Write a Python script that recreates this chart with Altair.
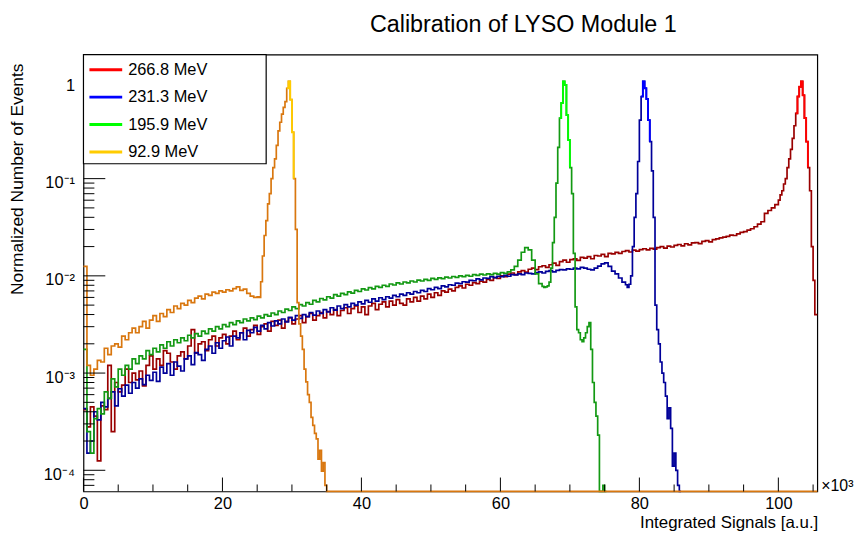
import numpy as np
import pandas as pd
import altair as alt

FONT = "Liberation Sans"
TITLE = "Calibration of LYSO Module 1"
X_TITLE = "Integrated Signals [a.u.]"
Y_TITLE = "Normalized Number of Events"
X_EXP = "×10³"

SERIES = ["266.8 MeV", "231.3 MeV", "195.9 MeV", "92.9 MeV"]
DARK = ["#990000", "#000099", "#139913", "#d9770f"]
BRIGHT = ["#ff0000", "#0000ff", "#00ff00", "#ffcc00"]

Y_MIN, Y_MAX = 6.06e-5, 1.89
X_MIN, X_MAX = 0.0, 105.6
FLOOR = Y_MIN  # empty bins sit on the axis

X_MAJOR = [0, 20, 40, 60, 80, 100]
X_MINOR = [5, 10, 15, 25, 30, 35, 45, 50, 55, 65, 70, 75, 85, 90, 95, 105]
Y_MAJOR = [1e-4, 1e-3, 1e-2, 1e-1, 1.0]
Y_MINOR = [k * 10.0 ** d for d in range(-5, 1) for k in range(2, 10)
           if Y_MIN <= k * 10.0 ** d <= Y_MAX]

# ---- 266.8 MeV : coarse bins (0.5 wide from 0), fine bins (0.25 wide from 100)
RED_COARSE = [
    4.2e-4, 2.8e-4, 4.5e-4, 3.6e-4, 1.25e-4, 4.6e-4, 4.2e-4, 1.2e-3, 2.5e-4, 8.0e-4,
    6.4e-4, 7.5e-4, 1.1e-3, 8.0e-4, 1.0e-3, 8.5e-4, 1.05e-3, 7.4e-4, 1.2e-3, 1.5e-3,
    1.1e-3, 1.4e-3, 1.2e-3, 1.7e-3, 1.6e-3, 1.3e-3, 1.1e-3, 1.5e-3, 1.65e-3, 1.4e-3,
    1.9e-3, 2.8e-3, 1.6e-3, 2.0e-3, 2.1e-3, 1.7e-3, 2.2e-3, 2.4e-3, 1.9e-3, 2.3e-3,
    2.5e-3, 2.0e-3, 2.4e-3, 2.7e-3, 2.2e-3, 2.6e-3, 2.9e-3, 2.4e-3, 2.8e-3, 3.1e-3,
    2.5e-3, 3.0e-3, 3.2e-3, 2.7e-3, 3.4e-3, 3.1e-3, 3.5e-3, 2.9e-3, 3.4e-3, 3.7e-3,
    3.2e-3, 3.6e-3, 3.9e-3, 3.3e-3, 3.8e-3, 4.1e-3, 3.5e-3, 3.9e-3, 4.2e-3, 3.7e-3,
    4.3e-3, 4.0e-3, 4.5e-3, 3.9e-3, 4.4e-3, 4.7e-3, 4.1e-3, 4.6e-3, 4.9e-3, 4.2e-3,
    4.8e-3, 4.0e-3, 4.9e-3, 5.2e-3, 4.5e-3, 5.1e-3, 5.4e-3, 4.8e-3, 5.5e-3, 5.0e-3,
    5.7e-3, 5.2e-3, 5.0e-3, 5.8e-3, 5.4e-3, 6.0e-3, 5.5e-3, 6.2e-3, 5.8e-3, 6.5e-3,
    6.0e-3, 6.7e-3, 6.3e-3, 7.0e-3, 6.8e-3, 7.3e-3, 7.0e-3, 7.6e-3, 7.9e-3, 7.5e-3,
    8.2e-3, 8.0e-3, 8.5e-3, 8.3e-3, 8.8e-3, 8.6e-3, 9.2e-3, 9.0e-3, 9.6e-3, 9.4e-3,
    1.0e-2, 9.8e-3, 1.04e-2, 1.07e-2, 1.03e-2, 1.1e-2, 1.13e-2, 1.09e-2, 1.17e-2, 1.2e-2,
    1.16e-2, 1.24e-2, 1.27e-2, 1.22e-2, 1.3e-2, 1.35e-2, 1.28e-2, 1.4e-2, 1.45e-2, 1.38e-2,
    1.47e-2, 1.5e-2, 1.44e-2, 1.55e-2, 1.52e-2, 1.58e-2, 1.5e-2, 1.62e-2, 1.6e-2, 1.66e-2,
    1.58e-2, 1.7e-2, 1.68e-2, 1.74e-2, 1.7e-2, 1.78e-2, 1.82e-2, 1.76e-2, 1.84e-2, 1.8e-2,
    1.86e-2, 1.9e-2, 1.85e-2, 1.92e-2, 1.88e-2, 1.95e-2, 2.0e-2, 1.93e-2, 2.02e-2, 1.98e-2,
    2.06e-2, 2.1e-2, 2.03e-2, 2.14e-2, 2.08e-2, 2.18e-2, 2.2e-2, 2.15e-2, 2.26e-2, 2.3e-2,
    2.24e-2, 2.36e-2, 2.4e-2, 2.46e-2, 2.5e-2, 2.55e-2, 2.62e-2, 2.6e-2, 2.7e-2, 2.8e-2,
    2.85e-2, 2.95e-2, 3.05e-2, 3.2e-2, 3.4e-2, 3.6e-2, 4.4e-2, 4.7e-2, 5.0e-2, 5.4e-2,
]
RED_FINE_START = 100.0
RED_FINE = [
    6.0e-2, 6.8e-2, 7.5e-2, 8.8e-2, 0.10, 0.13, 0.16, 0.20, 0.26, 0.35, 0.47,
    0.70, 0.88, 1.0, 0.72, 0.42, 0.24, 0.13, 7.5e-2, 2.0e-2, 9.0e-3, 4.0e-3,
]
RED_TAIL_X = [105.6]
RED_TAIL_Y = [4.0e-3]

# ---- 231.3 MeV
BLUE_COARSE = [
    4.3e-4, 1.5e-4, 2.0e-4, 4.0e-4, 3.3e-4, 5.0e-4, 4.5e-4, 5.5e-4, 6.4e-4, 4.6e-4,
    6.9e-4, 5.8e-4, 7.5e-4, 6.2e-4, 8.0e-4, 7.0e-4, 8.7e-4, 7.6e-4, 9.5e-4, 8.4e-4,
    1.02e-3, 8.2e-4, 1.15e-3, 1.0e-3, 1.25e-3, 9.5e-4, 1.3e-3, 1.18e-3, 1.05e-3, 1.4e-3,
    1.5e-3, 1.22e-3, 1.62e-3, 1.55e-3, 1.35e-3, 1.75e-3, 1.9e-3, 1.6e-3, 2.05e-3, 1.8e-3,
    2.15e-3, 2.35e-3, 1.9e-3, 2.4e-3, 2.3e-3, 2.6e-3, 2.2e-3, 2.75e-3, 2.6e-3, 2.95e-3,
    2.7e-3, 3.1e-3, 2.85e-3, 3.3e-3, 3.05e-3, 3.45e-3, 3.2e-3, 3.6e-3, 3.35e-3, 3.75e-3,
    3.5e-3, 3.9e-3, 3.65e-3, 4.0e-3, 3.8e-3, 4.2e-3, 3.95e-3, 4.35e-3, 4.1e-3, 4.5e-3,
    4.25e-3, 4.7e-3, 4.45e-3, 4.9e-3, 4.6e-3, 5.05e-3, 4.8e-3, 5.2e-3, 5.0e-3, 5.4e-3,
    5.15e-3, 5.6e-3, 5.35e-3, 5.8e-3, 5.5e-3, 5.95e-3, 5.7e-3, 6.1e-3, 5.9e-3, 6.3e-3,
    6.1e-3, 6.5e-3, 6.3e-3, 6.7e-3, 6.5e-3, 6.9e-3, 6.7e-3, 7.1e-3, 6.9e-3, 7.4e-3,
    7.2e-3, 7.6e-3, 7.4e-3, 7.9e-3, 7.7e-3, 8.1e-3, 8.0e-3, 8.4e-3, 8.3e-3, 8.7e-3,
    8.6e-3, 9.0e-3, 8.9e-3, 9.3e-3, 9.1e-3, 9.5e-3, 9.4e-3, 9.8e-3, 9.6e-3, 9.9e-3,
    9.8e-3, 1.01e-2, 9.9e-3, 1.03e-2, 1.02e-2, 1.05e-2, 1.03e-2, 1.07e-2, 1.06e-2, 1.05e-2,
    1.08e-2, 1.1e-2, 1.07e-2, 1.11e-2, 1.13e-2, 1.1e-2, 1.14e-2, 1.16e-2, 1.15e-2, 1.18e-2,
    1.17e-2, 1.2e-2, 1.18e-2, 1.22e-2, 1.2e-2, 1.17e-2, 1.15e-2, 1.2e-2, 1.26e-2, 1.33e-2,
    1.36e-2, 1.25e-2, 1.12e-2, 1.05e-2, 9.5e-3, 8.6e-3,
]
BLUE_FINE_START = 78.0
BLUE_FINE = [
    8.1e-3, 7.6e-3, 8.2e-3, 1.0e-2, 2.0e-2, 4.0e-2, 7.0e-2, 0.15, 0.40, 0.70, 1.0,
    0.85, 0.66, 0.40, 0.24, 0.12, 4.0e-2, 5.0e-3, 2.8e-3, 2.0e-3, 1.3e-3, 1.0e-3,
    8.0e-4, 5.8e-4, 3.4e-4, 4.4e-4, 2.7e-4, 1.1e-4, 1.5e-4, 1.0e-4, 7.0e-5, FLOOR,
]
BLUE_TAIL_X = [86.0]
BLUE_TAIL_Y = [FLOOR]

# ---- 195.9 MeV
GREEN_COARSE = [
    1.75e-3, 2.5e-4, 1.5e-4, 3.4e-4, 4.3e-4, 3.8e-4, 6.4e-4, 5.5e-4, 8.7e-4, 7.2e-4,
    1.1e-3, 9.5e-4, 1.2e-3, 1.1e-3, 1.4e-3, 1.25e-3, 1.5e-3, 1.4e-3, 1.7e-3, 1.55e-3,
    1.8e-3, 1.65e-3, 1.95e-3, 1.8e-3, 2.1e-3, 1.9e-3, 2.2e-3, 2.05e-3, 2.3e-3, 2.15e-3,
    2.45e-3, 2.3e-3, 2.55e-3, 2.4e-3, 2.7e-3, 2.55e-3, 2.85e-3, 2.7e-3, 3.0e-3, 2.85e-3,
    3.15e-3, 3.0e-3, 3.3e-3, 3.15e-3, 3.45e-3, 3.3e-3, 3.6e-3, 3.45e-3, 3.7e-3, 3.55e-3,
    3.85e-3, 3.7e-3, 4.0e-3, 3.85e-3, 4.15e-3, 4.0e-3, 4.35e-3, 4.2e-3, 4.55e-3, 4.4e-3,
    4.8e-3, 4.6e-3, 5.05e-3, 4.9e-3, 5.3e-3, 5.1e-3, 5.6e-3, 5.4e-3, 5.85e-3, 5.65e-3,
    6.1e-3, 5.9e-3, 6.4e-3, 6.2e-3, 6.6e-3, 6.4e-3, 6.85e-3, 6.65e-3, 7.1e-3, 6.9e-3,
    7.35e-3, 7.15e-3, 7.55e-3, 7.35e-3, 7.8e-3, 7.6e-3, 8.0e-3, 7.8e-3, 8.25e-3, 8.05e-3,
    8.45e-3, 8.25e-3, 8.65e-3, 8.45e-3, 8.85e-3, 8.65e-3, 9.05e-3, 8.85e-3, 9.2e-3, 9.0e-3,
    9.4e-3, 9.2e-3, 9.55e-3, 9.35e-3, 9.7e-3, 9.5e-3, 9.85e-3, 9.65e-3, 1.0e-2, 9.8e-3,
    1.01e-2, 9.9e-3, 1.03e-2, 1.01e-2, 1.04e-2, 1.02e-2, 1.05e-2, 1.03e-2, 1.06e-2, 1.04e-2,
    1.08e-2, 1.06e-2, 1.1e-2, 1.15e-2, 1.25e-2, 1.45e-2, 1.75e-2, 1.95e-2, 1.85e-2, 1.45e-2,
    1.05e-2, 8.3e-3,
]
GREEN_FINE_START = 66.0
GREEN_FINE = [
    7.8e-3, 7.6e-3, 7.7e-3, 7.9e-3, 8.6e-3, 1.2e-2, 2.2e-2, 4.0e-2, 9.0e-2, 0.21,
    0.42, 0.60, 1.0, 0.92, 0.45, 0.25, 0.13, 7.0e-2, 1.7e-2, 4.8e-3, 2.8e-3, 2.6e-3,
    2.2e-3, 2.1e-3, 2.3e-3, 2.6e-3, 3.0e-3, 3.3e-3, 1.75e-3, 8.0e-4, 5.0e-4, 3.6e-4,
    2.3e-4, FLOOR, FLOOR, 7.0e-5, FLOOR,
]
GREEN_TAIL_X = [75.25]
GREEN_TAIL_Y = [FLOOR]

# ---- 92.9 MeV
ORANGE_COARSE = [
    1.25e-2, 1.2e-3, 9.5e-4, 1.1e-3, 1.35e-3, 1.3e-3, 1.8e-3, 1.55e-3, 1.9e-3, 2.0e-3,
    1.85e-3, 2.4e-3, 2.2e-3, 2.6e-3, 2.9e-3, 2.6e-3, 3.0e-3, 3.4e-3, 2.9e-3, 3.5e-3,
    3.9e-3, 3.4e-3, 4.1e-3, 3.8e-3, 4.5e-3, 4.2e-3, 4.9e-3, 4.6e-3, 5.2e-3, 5.0e-3,
    5.6e-3, 5.3e-3, 5.9e-3, 6.2e-3, 5.8e-3, 6.5e-3, 6.3e-3, 6.8e-3, 6.6e-3, 7.0e-3,
    6.8e-3, 7.2e-3, 7.0e-3, 7.4e-3, 7.7e-3, 7.1e-3, 7.3e-3, 6.6e-3, 6.2e-3, 6.0e-3,
]
ORANGE_FINE_START = 25.0
ORANGE_FINE = [
    6.1e-3, 6.0e-3, 8.7e-3, 1.6e-2, 2.6e-2, 3.7e-2, 5.5e-2, 7.0e-2, 0.10, 0.13,
    0.16, 0.22, 0.31, 0.38, 0.46, 0.54, 0.62, 0.85, 1.0, 0.65, 0.30, 0.10, 3.0e-2,
    5.3e-3, 3.2e-3, 2.4e-3, 1.75e-3, 1.1e-3, 8.1e-4, 6.0e-4, 5.0e-4, 3.5e-4, 2.9e-4,
    2.4e-4, 2.1e-4, 1.3e-4, 1.6e-4, 9.8e-5, 1.2e-4, 7.0e-5,
]
ORANGE_TAIL_X = [35.0, 105.6]
ORANGE_TAIL_Y = [FLOOR, FLOOR]

# x-range of each peak drawn in the lighter colour
HIGHLIGHT = [(102.5, 104.25), (80.25, 81.5), (68.5, 70.0), (29.25, 30.25)]


def build(coarse, fine_start, fine, tail_x, tail_y):
    x = [i * 0.5 for i in range(len(coarse))]
    x += [fine_start + i * 0.25 for i in range(len(fine))]
    x += list(tail_x)
    y = list(coarse) + list(fine) + list(tail_y)
    return pd.DataFrame({"x": x, "y": y})


frames = [
    build(RED_COARSE, RED_FINE_START, RED_FINE, RED_TAIL_X, RED_TAIL_Y),
    build(BLUE_COARSE, BLUE_FINE_START, BLUE_FINE, BLUE_TAIL_X, BLUE_TAIL_Y),
    build(GREEN_COARSE, GREEN_FINE_START, GREEN_FINE, GREEN_TAIL_X, GREEN_TAIL_Y),
    build(ORANGE_COARSE, ORANGE_FINE_START, ORANGE_FINE, ORANGE_TAIL_X, ORANGE_TAIL_Y),
]

XS = alt.Scale(domain=[X_MIN, X_MAX], nice=False, zero=False)
YS = alt.Scale(type="log", domain=[Y_MIN, Y_MAX], nice=False)

X_AXIS = alt.Axis(values=X_MAJOR, format="d", ticks=False, tickSize=0, domain=False,
                  grid=False, labelFontSize=16.5, labelPadding=4, labelFont=FONT,
                  labelColor="#000", labelFlush=False, labelOverlap=False, title=None)
Y_LABEL_EXPR = ("datum.value >= 0.5 ? '1' : datum.value >= 0.05 ? '10⁻¹' : "
                "datum.value >= 0.005 ? '10⁻²' : datum.value >= 0.0005 ? '10⁻³' : '10⁻⁴'")
Y_AXIS = alt.Axis(values=Y_MAJOR, labelExpr=Y_LABEL_EXPR, ticks=False, tickSize=0,
                  domain=False, grid=False, labelFontSize=16.5, labelPadding=9,
                  labelFont=FONT, labelColor="#000", labelOffset=4,
                  labelOverlap=False, labelFlush=False, title=None)


def xq(field):
    return alt.X(field, scale=XS, axis=X_AXIS)


def yq(field):
    return alt.Y(field, scale=YS, axis=Y_AXIS)


layers = []
for i, df in enumerate(frames):
    layers.append(
        alt.Chart(df).mark_line(interpolate="step-after", color=DARK[i], strokeWidth=1.7,
                                clip=False)
        .encode(x=xq("x:Q"), y=yq("y:Q"))
    )
for i, df in enumerate(frames):
    lo, hi = HIGHLIGHT[i]
    sub = df[(df["x"] >= lo) & (df["x"] <= hi)]
    layers.append(
        alt.Chart(sub).mark_line(interpolate="step-after", color=BRIGHT[i], strokeWidth=1.9,
                                 clip=False)
        .encode(x=xq("x:Q"), y=yq("y:Q"))
    )

# inward ticks, ROOT style
for vals, ln in [(X_MAJOR, 14), (X_MINOR, 7)]:
    layers.append(
        alt.Chart(pd.DataFrame({"t": vals})).mark_rule(color="black", strokeWidth=1)
        .encode(x=xq("t:Q"), y=alt.value(440), y2=alt.value(440 - ln))
    )
for vals, ln in [(Y_MAJOR, 22), (Y_MINOR, 11)]:
    layers.append(
        alt.Chart(pd.DataFrame({"t": vals})).mark_rule(color="black", strokeWidth=1)
        .encode(y=yq("t:Q"), x=alt.value(0), x2=alt.value(ln))
    )

one = pd.DataFrame({"a": [0]})

# legend
layers.append(
    alt.Chart(one).mark_rect(fill="white", stroke="black", strokeWidth=1.2)
    .encode(x=alt.value(0), x2=alt.value(184), y=alt.value(0), y2=alt.value(110))
)
for i, name in enumerate(SERIES):
    yy = 15.3 + 27.6 * i
    layers.append(
        alt.Chart(one).mark_rule(color=BRIGHT[i], strokeWidth=3)
        .encode(x=alt.value(6), x2=alt.value(39), y=alt.value(yy))
    )
    layers.append(
        alt.Chart(one).mark_text(align="left", baseline="middle", font=FONT, fontSize=16.5,
                                 color="#000")
        .encode(x=alt.value(45), y=alt.value(yy), text=alt.value(name))
    )

# titles
layers.append(
    alt.Chart(one).mark_text(align="center", baseline="alphabetic", font=FONT, fontSize=23.5,
                             color="#000")
    .encode(x=alt.value(443), y=alt.value(-23), text=alt.value(TITLE))
)
layers.append(
    alt.Chart(one).mark_text(align="right", baseline="alphabetic", font=FONT, fontSize=17,
                             color="#000")
    .encode(x=alt.value(740), y=alt.value(477), text=alt.value(X_TITLE))
)
layers.append(
    alt.Chart(one).mark_text(align="right", baseline="middle", font=FONT, fontSize=17.5,
                             angle=270, color="#000")
    .encode(x=alt.value(-66), y=alt.value(9), text=alt.value(Y_TITLE))
)
layers.append(
    alt.Chart(one).mark_text(align="left", baseline="alphabetic", font=FONT, fontSize=16,
                             color="#000")
    .encode(x=alt.value(743), y=alt.value(440), text=alt.value(X_EXP))
)

chart = (
    alt.layer(*layers)
    .properties(width=739, height=440,
                padding={"left": 76, "top": 45, "right": 38, "bottom": 41},
                autosize=alt.AutoSizeParams(type="none"))
    .configure_view(stroke="black", strokeWidth=1.2)
)

chart.save("out.html", embed_options={"renderer": "svg", "actions": False})
